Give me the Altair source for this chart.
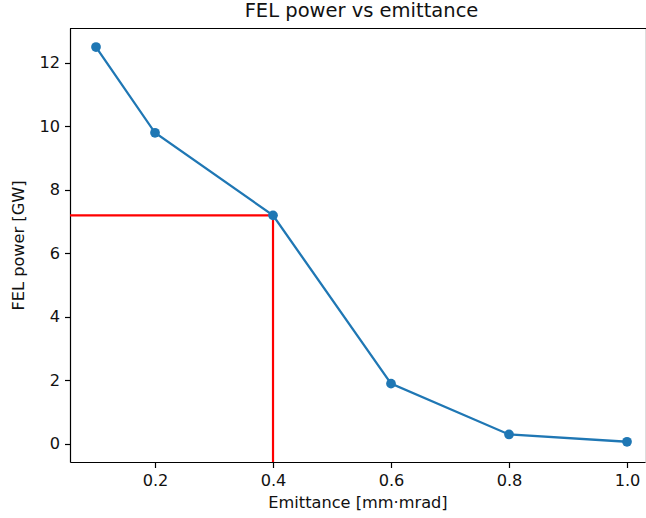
import altair as alt
import pandas as pd

emittance = [0.1, 0.2, 0.4, 0.6, 0.8, 1.0]
power = [12.5, 9.8, 7.2, 1.9, 0.3, 0.07]
x_ticks = [0.2, 0.4, 0.6, 0.8, 1.0]
y_ticks = [0, 2, 4, 6, 8, 10, 12]
marker_x = 0.4
marker_y = 7.2

x_dom = [0.0559, 1.0305]
y_dom = [-0.567, 13.10]

df = pd.DataFrame({"e": emittance, "p": power})
ref = pd.DataFrame({"x0": [x_dom[0], marker_x], "x1": [marker_x, marker_x],
                    "y0": [marker_y, y_dom[0]], "y1": [marker_y, marker_y]})

FONT = "DejaVu Sans"
LS = 16.2
xs = alt.Scale(domain=x_dom, nice=False, zero=False)
ys = alt.Scale(domain=y_dom, nice=False, zero=False)

common = dict(grid=False, tickSize=5.5, tickWidth=1.2, tickColor="black",
              domainColor="black", domainWidth=1.2,
              labelFont=FONT, labelFontSize=LS, labelColor="#111111", labelPadding=5,
              titleFont=FONT, titleFontSize=LS, titleFontWeight="normal",
              titleColor="#111111")
xaxis = alt.Axis(values=x_ticks, format=".1f", titlePadding=6, **common)
yaxis = alt.Axis(values=y_ticks, format="d", titlePadding=12, **common)

rules = alt.Chart(ref).mark_rule(color="red", strokeWidth=2.2, strokeCap="butt").encode(
    x=alt.X("x0:Q", scale=xs, axis=xaxis, title="Emittance [mm·mrad]"),
    x2="x1:Q",
    y=alt.Y("y0:Q", scale=ys, axis=yaxis, title="FEL power [GW]"),
    y2="y1:Q",
)

line = alt.Chart(df).mark_line(color="#1f77b4", strokeWidth=2.3).encode(
    x=alt.X("e:Q", scale=xs), y=alt.Y("p:Q", scale=ys))
pts = alt.Chart(df).mark_point(filled=True, color="#1f77b4", size=95, opacity=1).encode(
    x=alt.X("e:Q", scale=xs), y=alt.Y("p:Q", scale=ys))

top = alt.Chart(df).mark_rule(color="black", strokeWidth=1.2).encode(
    x=alt.value(0), x2=alt.value(580), y=alt.value(0.5))

chart = alt.layer(rules, line, pts, top).properties(
    width=575, height=434,
    title=alt.TitleParams("FEL power vs emittance", font=FONT, fontSize=19.5,
                          fontWeight="normal", color="#111111", offset=6, dx=4),
    autosize=alt.AutoSizeParams(type="none"),
    padding={"left": 70, "top": 28, "right": 1, "bottom": 56},
).configure_view(strokeWidth=0, stroke="transparent").configure(background="white")

chart.save("out.html", embed_options={"renderer": "svg", "actions": False})
